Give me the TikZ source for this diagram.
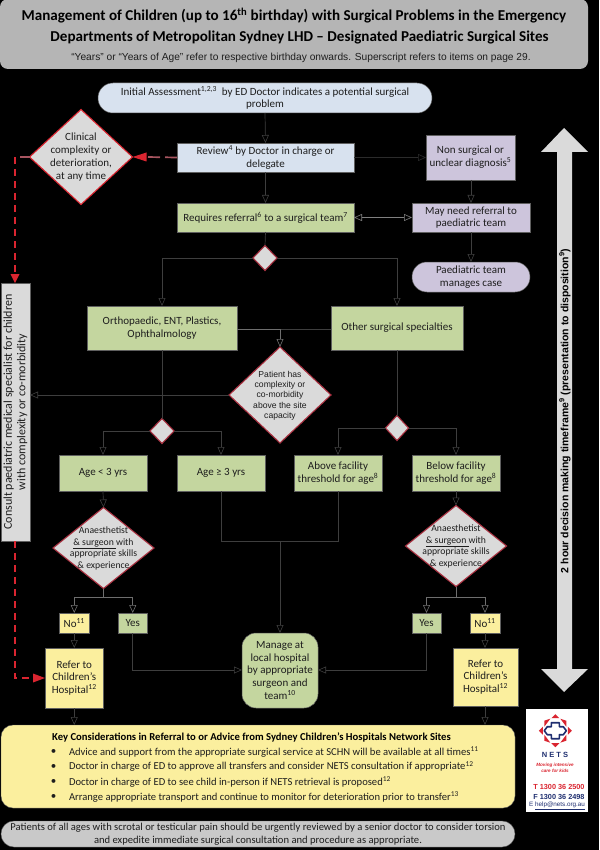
\documentclass[tikz,border=0pt]{standalone}
\usepackage{fontspec}
\setmainfont{Carlito}
\newfontfamily\arialf{Liberation Sans}
\usetikzlibrary{arrows.meta,shapes.geometric,calc}
\definecolor{cblue}{HTML}{D8E2EF}
\definecolor{cgreen}{HTML}{C4D69F}
\definecolor{cpurple}{HTML}{CDC5DC}
\definecolor{cyellow}{HTML}{FBEF9E}
\definecolor{cgrey}{HTML}{DADADA}
\definecolor{chead}{HTML}{B5B5B5}
\definecolor{cbot}{HTML}{C9C9C9}
\definecolor{cline}{HTML}{3E3E3E}
\definecolor{cbright}{HTML}{6E6E6E}
\definecolor{cedge}{HTML}{5F5F5F}
\definecolor{cred}{HTML}{DA2530}
\definecolor{cpale}{HTML}{A85560}
\definecolor{cdia}{HTML}{A83040}
\definecolor{ctxt}{HTML}{1E1E1E}
\definecolor{cnavy}{HTML}{1F2F70}
\newcommand\tx{\fontsize{11}{12.8}\selectfont}
\newcommand\tk{\fontsize{10.6}{12.8}\selectfont}
\newcommand\bx[7][]{%
  \pgfmathsetmacro\bw{#5-#3}\pgfmathsetmacro\bh{#6-#4}%
  \pgfmathsetmacro\cx{(#5+#3)/2}\pgfmathsetmacro\cy{(#6+#4)/2}%
  \node[#1,minimum width=\bw pt,minimum height=\bh pt] (#2) at (\cx,\cy) {#7};}
\newcommand\dtx[1]{\makebox[0pt]{\raisebox{-3.2pt}[0pt][0pt]{$\vcenter{\hbox{\begin{tabular}{@{}c@{}}#1\end{tabular}}}$}}}
\newcommand\dm[7][]{%
  \node[diabox,#1,minimum width=#5 pt,minimum height=#6 pt] (#2) at (#3,#4) {\dtx{#7}};}
\tikzset{
  x=1pt,y=-1pt,
  base/.style={inner sep=0pt,outer sep=0pt,align=center,text=ctxt,font=\tx},
  bluebox/.style={base,draw=cedge,line width=.5pt,fill=cblue},
  greenbox/.style={base,draw=cedge,line width=.5pt,fill=cgreen},
  purplebox/.style={base,draw=cedge,line width=.5pt,fill=cpurple},
  yellowbox/.style={base,draw=cedge,line width=.5pt,fill=cyellow},
  diabox/.style={base,diamond,aspect=1,fill=cgrey,draw=cdia,line width=1.1pt},
  conn/.style={draw=cline,line width=.7pt,-{Triangle[open,length=8pt,width=7pt,line width=.6pt]}},
  plain/.style={draw=cline,line width=.7pt},
  brightline/.style={draw=cbright,line width=1pt},
  redline/.style={draw=cred,line width=1.1pt,dash pattern=on 7pt off 5pt},
  paleline/.style={draw=cpale,line width=1.7pt,dash pattern=on 12pt off 5pt},
  lab/.style={inner sep=0pt,outer sep=0pt,text=ctxt,font=\tx},
  anaes/.style={font=\fontsize{9.7}{11.6}\selectfont},
}
\begin{document}
\begin{tikzpicture}
\useasboundingbox (0,0) rectangle (599,850);
\fill[black] (0,0) rectangle (599,850);

% header
\bx[base,fill=chead,rounded corners=8pt]{head}{0}{-1}{588}{69}{}
\node[lab,font=\fontsize{15.1}{18}\selectfont\bfseries,text=black] (t1) at (294,15.5) {Management of Children (up to 16\textsuperscript{th} birthday) with Surgical Problems in the Emergency};
\node[lab,font=\fontsize{15.1}{18}\selectfont\bfseries,text=black] (t2) at (299.5,37.5) {Departments of Metropolitan Sydney LHD -- Designated Paediatric Surgical Sites};
\node[lab,font=\arialf\fontsize{10.2}{12}\selectfont] (t3) at (301,58) {“Years” or “Years of Age” refer to respective birthday onwards. Superscript refers to items on page 29.};

% big arrow
\fill[cgrey] (564,128) -- (588,152) -- (572,152) -- (572,669) -- (588,669) -- (564,692) -- (541,669) -- (557,669) -- (557,152) -- (541,152) -- cycle;
\node[lab,rotate=90,font=\arialf\fontsize{10.5}{13}\selectfont\bfseries,text=black] (tf) at (565,411) {2 hour decision making timeframe\textsuperscript{9} (presentation to disposition\textsuperscript{9})};

% boxes
\bx[bluebox,rounded corners=14.9pt]{init}{98}{83}{432}{113}{Initial Assessment\textsuperscript{1,2,3}\ \ by ED Doctor indicates a potential surgical\\problem}
\bx[bluebox]{review}{177}{143}{354}{172}{Review\textsuperscript{4} by Doctor in charge or\\delegate}
\bx[purplebox]{nonsurg}{426}{135}{515}{180}{Non surgical or\\unclear diagnosis\textsuperscript{5}}
\bx[greenbox]{req}{177}{203}{354}{232}{Requires referral\textsuperscript{6} to a surgical team\textsuperscript{7}}
\bx[purplebox]{may}{412}{203}{530}{232}{May need referral to\\paediatric team}
\bx[purplebox,rounded corners=14.9pt]{paed}{412}{262}{530}{292}{Paediatric team\\manages case}
\bx[greenbox]{ortho}{87}{306}{237}{350}{Orthopaedic, ENT, Plastics,\\Ophthalmology}
\bx[greenbox]{other}{331}{306}{463}{350}{Other surgical specialties}
\bx[greenbox]{ageu}{59}{455}{147}{491}{Age < 3 yrs}
\bx[greenbox]{ageo}{177}{455}{265}{491}{Age ≥ 3 yrs}
\bx[greenbox]{above}{294}{455}{382}{491}{Above facility\\threshold for age\textsuperscript{8}}
\bx[greenbox]{below}{412}{455}{500}{491}{Below facility\\threshold for age\textsuperscript{8}}
\bx[yellowbox]{nol}{59.5}{613}{89}{633}{No\textsuperscript{11}}
\bx[greenbox]{yesl}{118}{613}{147.5}{633}{Yes}
\bx[greenbox]{yesr}{412}{613}{441}{633}{Yes}
\bx[yellowbox]{nor}{470}{613}{500}{633}{No\textsuperscript{11}}
\bx[yellowbox]{refl}{45}{648}{103.5}{708}{Refer to\\Children’s\\Hospital\textsuperscript{12}}
\bx[yellowbox]{refr}{453}{648}{518}{706}{Refer to\\Children’s\\Hospital\textsuperscript{12}}
\bx[greenbox,rounded corners=14pt]{manage}{242}{633}{318}{708}{Manage at\\local hospital\\by appropriate\\surgeon and\\team\textsuperscript{10}}
\node[base,fill=cgrey,draw=cedge,line width=.5pt,rotate=90,minimum width=258pt,minimum height=29pt,font=\fontsize{12}{13.4}\selectfont] (consult) at (15.5,412) {Consult paediatric medical specialist for children\\with complexity or co-morbidity};

% diamonds
\dm[draw=cred]{clin}{81}{157}{103}{95}{Clinical\\complexity or\\deterioration,\\at any time}
\dm{d1}{265}{258}{24}{25}{}
\dm{d2}{162}{431}{24}{25}{}
\dm{d3}{397}{428}{23}{25}{}
\dm[font=\arialf\fontsize{8.6}{10.2}\selectfont]{pat}{280}{395}{102}{96}{Patient has\\complexity or\\co-morbidity\\above the site\\capacity}
\dm[anaes]{anl}{103.5}{548}{101}{81}{Anaesthetist\\\underline{\& surgeon }with\\appropriate skills\\\& experience}
\dm[anaes]{anr}{456}{546}{101}{81}{Anaesthetist\\\underline{\& surgeon }with\\appropriate skills\\\& experience}

% connectors
\draw[conn] (init.south) -- (review.north);
\draw[conn] (review.south) -- (req.north);
\draw[conn,draw=cline!70!black] (review.east) -- (review.east -| nonsurg.west);
\coordinate (nsb) at (471,180); \coordinate (mt) at (471,203);
\draw[conn] (nsb) -- (mt);
\coordinate (mb) at (471,232); \coordinate (pt) at (471,262);
\draw[conn] (mb) -- (pt);
\draw[draw=gray,line width=.8pt,{Triangle[open,length=8pt,width=7pt,line width=.6pt]}-{Triangle[open,length=8pt,width=7pt,line width=.6pt]}] (req.east) -- (may.west);
\draw[plain] (req.south) -- (d1.north);
\draw[conn] (d1.west) -| (ortho.north);
\draw[conn] (d1.east) -| (other.north);
\coordinate (orj) at (237,329); \coordinate (otj) at (331,329);
\draw[plain] (otj) -- (orj);
\draw[conn,draw=cbright] (orj) -| (pat.north);
\draw[conn] (pat.west) -- (pat.west -| consult.south);
\draw[plain] (ortho.south) -- (d2.north);
\draw[plain] (other.south) -- (d3.north);
\draw[conn] (d2.west) -| (ageu.north);
\draw[conn] (d2.east) -| (ageo.north);
\draw[conn] (d3.west) -| (above.north);
\draw[conn] (d3.east) -| (below.north);
\draw[conn] (ageu.south) -- (anl.north);
\draw[conn] (below.south) -- (anr.north);
\coordinate (jn) at (280,541.7);
\draw[plain] (ageo.south) |- (jn);
\draw[plain] (above.south) |- (jn);
\coordinate (mtop) at (280,633);
\draw[conn] (jn) -- (mtop);
\coordinate (sl) at (103.5,597.7); \coordinate (sr) at (456,597);
\draw[brightline] (anl.south) -- (sl);
\draw[brightline] (anr.south) -- (sr);
\draw[conn,draw=cbright] (sl) -| (nol.north);
\draw[conn,draw=cbright] (sl) -| (yesl.north);
\draw[conn,draw=cbright] (sr) -| (yesr.north);
\draw[conn,draw=cbright] (sr) -| (nor.north);
\coordinate (rlt) at (74.25,648); \coordinate (rrt) at (485,648);
\draw[conn] (nol.south) -- (rlt);
\draw[conn] (nor.south) -- (rrt);
\coordinate (ml) at (242,670); \coordinate (mr) at (318,670);
\draw[conn] (yesl.south) |- (ml);
\draw[conn] (yesr.south) |- (mr);

% key box
\bx[base,fill=cyellow,draw=cedge,line width=.4pt,rounded corners=12pt]{key}{1}{725}{515}{808}{}
\bx[base,fill=cbot,draw=cedge,line width=.4pt,rounded corners=12.9pt,font=\tk]{bot}{1}{821}{515}{847}{Patients of all ages with scrotal or testicular pain should be urgently reviewed by a senior doctor to consider torsion\\and expedite immediate surgical consultation and procedure as appropriate.}
\coordinate (klt) at (74.25,725); \coordinate (krt) at (485,725);
\draw[conn] (refl.south -| klt) -- (klt);
\draw[conn] (refr.south -| krt) -- (krt);
\node[lab,font=\fontsize{10.65}{13}\selectfont\bfseries,text=black] (kt) at (251.5,737) {Key Considerations in Referral to or Advice from Sydney Children’s Hospitals Network Sites};
\node[lab] (b1) at (53.5,752) {•};
\node[lab] (b2) at (53.5,766.5) {•};
\node[lab] (b3) at (53.5,782) {•};
\node[lab] (b4) at (53.5,797) {•};
\node[lab,font=\tk,anchor=west] (k1) at (69,752) {Advice and support from the appropriate surgical service at SCHN will be available at all times\textsuperscript{11}};
\node[lab,font=\tk,anchor=west] (k2) at (69,766.5) {Doctor in charge of ED to approve all transfers and consider NETS consultation if appropriate\textsuperscript{12}};
\node[lab,font=\tk,anchor=west] (k3) at (69,782) {Doctor in charge of ED to see child in-person if NETS retrieval is proposed\textsuperscript{12}};
\node[lab,font=\tk,anchor=west] (k4) at (69,797) {Arrange appropriate transport and continue to monitor for deterioration prior to transfer\textsuperscript{13}};

% red dashed paths
\coordinate (rv) at (15,157);
\coordinate (rs) at (20,157);
\coordinate (ct) at (15,283);
\coordinate (cb) at (15,541);
\coordinate (cn) at (15,678);
\coordinate (rt) at (45,678);
\draw[paleline] (review.west) -- ($(clin.east)+(14,0)$);
\fill[cred] (clin.east) -- ++(14,-4.5) -- ++(0,9) -- cycle;
\draw[draw=cpale,line width=1.7pt] (clin.west) -- (rs);
\draw[redline] (rv) -- ($(ct)+(0,-8)$);
\fill[cred] (ct) -- ++(-4.5,-9) -- ++(9,0) -- cycle;
\draw[redline] (cb) -- (cn) -- ($(rt)+(-10,0)$);
\fill[cred] (rt) -- ++(-12,-4.5) -- ++(0,9) -- cycle;

% NETS logo
\bx[base,fill=white]{logo}{526}{709}{588}{812}{}
\begin{scope}[shift={(555.3,730.7)}]
  \fill[cred] (0,-16.5) -- (4,-12.5) -- (-4,-12.5) -- cycle;
  \fill[cred] (0,16.5) -- (4,12.5) -- (-4,12.5) -- cycle;
  \fill[cred] (-16.5,0) -- (-12.5,4) -- (-12.5,-4) -- cycle;
  \fill[cred] (16.5,0) -- (12.5,4) -- (12.5,-4) -- cycle;
  \fill[cred] (-11,-4) -- (-11,-10) -- (-5,-12) -- cycle;
  \fill[cred] (11,-4) -- (11,-10) -- (5,-12) -- cycle;
  \fill[cred] (-11,4) -- (-11,10) -- (-5,12) -- cycle;
  \fill[cred] (11,4) -- (11,10) -- (5,12) -- cycle;
  \draw[cnavy,line width=1.6pt,line join=round] (-4,-8) -- (4,-8) -- (4,-4) -- (8,-4) -- (11,0) -- (8,4) -- (4,4) -- (4,8) -- (-4,8) -- (-4,4) -- (-8,4) -- (-11,0) -- (-8,-4) -- (-4,-4) -- cycle;
\end{scope}
\node[lab,font=\arialf\fontsize{7.5}{9}\selectfont\bfseries,text=cnavy] (nets) at (555,755) {N E T S};
\node[lab,align=center,font=\arialf\fontsize{4.6}{6}\selectfont\bfseries\itshape,text=cred] (mov) at (555,768) {Moving intensive\\care for kids};
\begin{scope}
  \clip (526,709) rectangle (588,812);
  \node[lab,anchor=east,font=\arialf\fontsize{7.3}{8}\selectfont\bfseries,text=cred] (ph) at (584.5,787) {T 1300 36 2500};
  \node[lab,anchor=east,font=\arialf\fontsize{7.3}{8}\selectfont\bfseries,text=cnavy] (fx) at (584.5,797) {F 1300 36 2498};
  \node[lab,anchor=east,font=\arialf\fontsize{6.3}{8}\selectfont,text=cnavy] (em) at (585,806) {E \underline{help@nets.org.au}};
\end{scope}
\end{tikzpicture}
\end{document}
